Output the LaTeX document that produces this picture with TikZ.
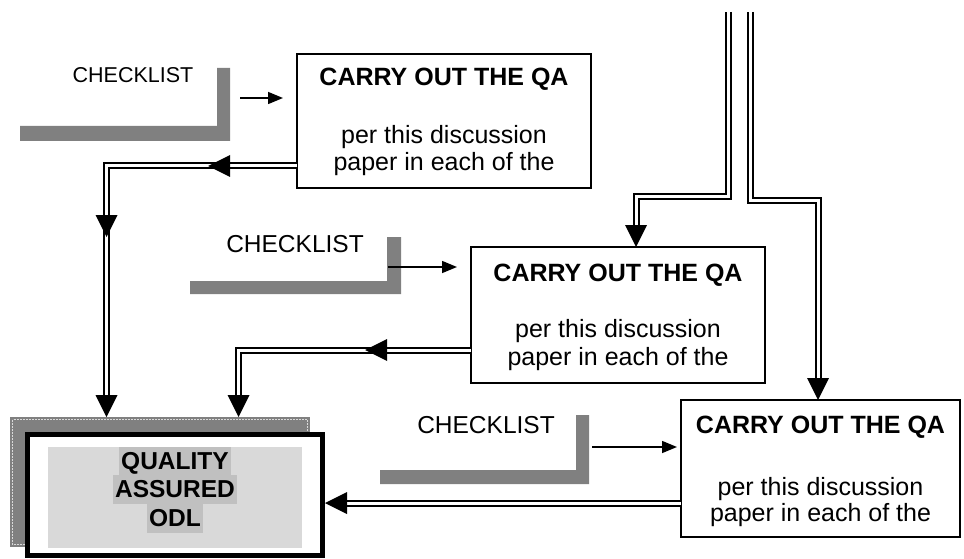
\documentclass[tikz,border=0pt]{standalone}
\usepackage{fontspec}
\setmainfont{Liberation Sans}
\usetikzlibrary{arrows.meta,calc}
\definecolor{barGray}{RGB}{128,128,128}
\definecolor{panelGray}{RGB}{217,217,217}
\definecolor{markGray}{RGB}{192,192,192}
\tikzset{
  bigtip/.pic={\fill[black] (0pt,0pt) -- (-22pt,11pt) -- (-22pt,-11pt) -- cycle;},
}
\begin{document}
\begin{tikzpicture}[x=1pt,y=-1pt,
  every node/.style={outer sep=0pt},
  stepbox/.style={draw=black, line width=1.8pt, fill=white, rectangle, inner sep=0pt, anchor=north west},
  boxtitle/.style={anchor=base, inner sep=0pt, font=\fontsize{25}{28}\selectfont\bfseries},
  boxline/.style={anchor=base, inner sep=0pt, font=\fontsize{25}{28}\selectfont},
  checktext/.style={anchor=base, inner sep=0pt, font=\fontsize{24.5}{28}\selectfont},
  feed/.style={line width=1.5pt, -{Triangle[length=15pt,width=12pt]}},
  dbl/.style={draw=black, line width=2pt, double=white, double distance=3pt},
  qaline/.style={anchor=base, fill=markGray, inner xsep=2pt, inner ysep=0pt,
    text height=22pt, text depth=7pt, font=\fontsize{24.5}{28}\selectfont\bfseries},
]
\useasboundingbox (0,0) rectangle (964,559);

% checklist brackets
\fill[barGray] (20,126) -- (217,126) -- (217,68) -- (230,68) -- (230,141) -- (20,141) -- cycle;
\fill[barGray] (190,281) -- (387,281) -- (387,237) -- (401,237) -- (401,294) -- (190,294) -- cycle;
\fill[barGray] (380,470) -- (576,470) -- (576,415) -- (589,415) -- (589,484) -- (380,484) -- cycle;

\node[checktext, font=\fontsize{21.5}{26}\selectfont] (c1) at (133,83) {CHECKLIST};
\node[checktext] (c2) at (295,252) {CHECKLIST};
\node[checktext] (c3) at (486,433) {CHECKLIST};

% the three QA steps
\node[stepbox, minimum width=294pt, minimum height=134pt] (b1) at (297,54) {};
\node[boxtitle] (b1t) at ($(b1.north)+(0,32)$) {CARRY OUT THE QA};
\node[boxline]  (b1a) at ($(b1.north)+(0,89)$) {per this discussion};
\node[boxline]  (b1b) at ($(b1.north)+(0,117)$) {paper in each of the};

\node[stepbox, minimum width=294pt, minimum height=136pt] (b2) at (471,247) {};
\node[boxtitle] (b2t) at ($(b2.north)+(0,34)$) {CARRY OUT THE QA};
\node[boxline]  (b2a) at ($(b2.north)+(0,90)$) {per this discussion};
\node[boxline]  (b2b) at ($(b2.north)+(0,118)$) {paper in each of the};

\node[stepbox, minimum width=279pt, minimum height=137pt] (b3) at (681,400) {};
\node[boxtitle] (b3t) at ($(b3.north)+(0,33)$) {CARRY OUT THE QA};
\node[boxline]  (b3a) at ($(b3.north)+(0,95)$) {per this discussion};
\node[boxline]  (b3b) at ($(b3.north)+(0,121)$) {paper in each of the};

% result box with its shadow
\node[fill=barGray, minimum width=300pt, minimum height=130pt, anchor=north west, inner sep=0pt] (qash) at (10,417) {};
\draw[white!70!gray, line width=0.6pt, dash pattern=on 2pt off 1pt]
  ($(qash.north west)+(2.5,2.5)$) rectangle ($(qash.south east)+(-2.5,-2.5)$);
\node[draw=black, line width=5pt, fill=white, minimum width=295pt, minimum height=121pt,
  anchor=north west, inner sep=0pt] (qa) at (27.5,434.5) {};
\node[fill=panelGray, minimum width=254pt, minimum height=101pt, anchor=north west, inner sep=0pt] (qapanel) at (48,447) {};
\node[qaline] (q1) at (175,469) {QUALITY};
\node[qaline] (q2) at (175,497) {ASSURED};
\node[qaline] (q3) at (175,526) {ODL};

% checklist feeds
\coordinate (f1) at (240,98);
\draw[feed, shorten >=14pt] (f1) -- (f1 -| b1.west);
\coordinate (f2) at (388,267);
\draw[feed, shorten >=14pt] (f2) -- (f2 -| b2.west);
\coordinate (f3) at (592,447);
\draw[feed, shorten >=4pt] (f3) -- (f3 -| b3.west);

% double connectors
\coordinate (a0) at ($(b1.south west)+(0,-22)$);
\coordinate (a1) at (106.5,166);
\draw[dbl, shorten >=22pt] (a0) -- (a1) -- (a1 |- qash.north);
\pic[rotate=180] at (208,166) {bigtip};
\pic[rotate=-90] at (106.5,237) {bigtip};
\pic[rotate=-90] at (a1 |- qash.north) {bigtip};

\coordinate (g0) at ($(b2.north west)+(0,103)$);
\coordinate (g1) at (238.5,350);
\draw[dbl, shorten >=22pt] (g0) -- (g1) -- (g1 |- qash.north);
\pic[rotate=180] at (365,350) {bigtip};
\pic[rotate=-90] at (g1 |- qash.north) {bigtip};

\coordinate (h0) at ($(b3.north west)+(0,103)$);
\coordinate (h1) at ($(h0 -| qa.east)+(2.5,0)$);
\draw[dbl, shorten >=22pt] (h0) -- (h1);
\pic[rotate=180] at (h1) {bigtip};

\coordinate (d0) at (728,12);
\coordinate (d1) at (728,196);
\coordinate (d2) at (636,196);
\draw[dbl, shorten >=22pt] (d0) -- (d1) -- (d2) -- (d2 |- b2.north);
\pic[rotate=-90] at (d2 |- b2.north) {bigtip};

\coordinate (e0) at (750,12);
\coordinate (e1) at (750,200);
\coordinate (e2) at (818,200);
\draw[dbl, shorten >=22pt] (e0) -- (e1) -- (e2) -- (e2 |- b3.north);
\pic[rotate=-90] at (e2 |- b3.north) {bigtip};
\end{tikzpicture}
\end{document}
